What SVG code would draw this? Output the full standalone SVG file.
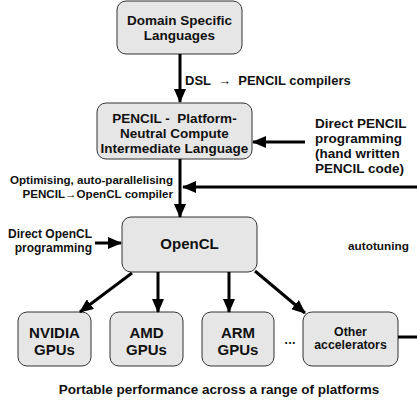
<svg xmlns="http://www.w3.org/2000/svg" width="417" height="400" viewBox="0 0 417 400">
<defs>
<marker id="ah" markerUnits="userSpaceOnUse" markerWidth="14" markerHeight="12" refX="13" refY="6" orient="auto">
<path d="M0,0 L14,6 L0,12 z" fill="#000"/>
</marker>
<style>
.box{fill:#e6e6e6;stroke:#333;stroke-width:1}
.t{font-family:"Liberation Sans",Arial,sans-serif;font-weight:bold;fill:#111}
.c{text-anchor:middle}
.r{text-anchor:end}
.ln{stroke:#000;stroke-width:3;fill:none}
.a{marker-end:url(#ah)}
</style>
</defs>
<rect width="417" height="400" fill="#fff"/>
<g id="dsl">
<rect class="box" x="117" y="1" width="125" height="53" rx="9"/>
<text class="t c" x="179.5" y="25" font-size="13.5">Domain Specific</text>
<text class="t c" x="179.5" y="40" font-size="13.5">Languages</text>
</g>
<g id="pencil">
<rect class="box" x="97" y="103" width="155" height="56" rx="9"/>
<text class="t c" x="174.5" y="123" font-size="13.5" style="white-space:pre">PENCIL -  Platform-</text>
<text class="t c" x="174.5" y="138" font-size="13.5">Neutral Compute</text>
<text class="t c" x="174.5" y="153" font-size="13.5">Intermediate Language</text>
</g>
<g id="opencl">
<rect class="box" x="122" y="217" width="135" height="55" rx="9"/>
<text class="t c" x="189.5" y="249" font-size="15">OpenCL</text>
</g>
<g id="nvidia">
<rect class="box" x="18" y="312" width="73" height="54" rx="9"/>
<text class="t c" x="54.5" y="338" font-size="15">NVIDIA</text>
<text class="t c" x="54.5" y="355" font-size="15">GPUs</text>
</g>
<g id="amd">
<rect class="box" x="110" y="312" width="73" height="54" rx="9"/>
<text class="t c" x="146.5" y="338" font-size="15">AMD</text>
<text class="t c" x="146.5" y="355" font-size="15">GPUs</text>
</g>
<g id="arm">
<rect class="box" x="202" y="312" width="72" height="54" rx="9"/>
<text class="t c" x="238" y="338" font-size="15">ARM</text>
<text class="t c" x="238" y="355" font-size="15">GPUs</text>
</g>
<g id="other">
<rect class="box" x="303" y="312" width="95" height="54" rx="9"/>
<text class="t c" x="350.5" y="336" font-size="12.3">Other</text>
<text class="t c" x="350.5" y="349" font-size="12.3">accelerators</text>
</g>
<g id="connectors">
<line class="ln a" x1="180" y1="54" x2="180" y2="102"/>
<line class="ln a" x1="305" y1="142" x2="253" y2="142"/>
<line class="ln a" x1="180" y1="159" x2="180" y2="217"/>
<line class="ln a" x1="417" y1="187" x2="183" y2="187"/>
<line class="ln a" x1="95" y1="243" x2="121" y2="243"/>
<line class="ln a" x1="132" y1="273" x2="80" y2="312"/>
<line class="ln a" x1="158" y1="272" x2="158" y2="312"/>
<line class="ln a" x1="229" y1="272" x2="229" y2="312"/>
<line class="ln a" x1="255" y1="271" x2="305" y2="313"/>
<line class="ln" x1="398" y1="337" x2="417" y2="337"/>
</g>
<g id="labels">
<text class="t" x="185" y="85" font-size="13" style="white-space:pre">DSL  →  PENCIL compilers</text>
<text class="t" x="315" y="128" font-size="13.5">Direct PENCIL</text>
<text class="t" x="315" y="143" font-size="13.5">programming</text>
<text class="t" x="315" y="158" font-size="13.5">(hand written</text>
<text class="t" x="315" y="173" font-size="13.5">PENCIL code)</text>
<text class="t r" x="173" y="184" font-size="11.6">Optimising, auto-parallelising</text>
<text class="t r" x="173" y="197.5" font-size="11.6">PENCIL→OpenCL compiler</text>
<text class="t r" x="92" y="238" font-size="12">Direct OpenCL</text>
<text class="t r" x="92" y="252" font-size="12">programming</text>
<text class="t" x="348" y="250" font-size="11.8">autotuning</text>
<text class="t c" x="290" y="344" font-size="12" font-weight="normal">…</text>
<text class="t c" x="219" y="394" font-size="13.5">Portable performance across a range of platforms</text>
</g>
</svg>
